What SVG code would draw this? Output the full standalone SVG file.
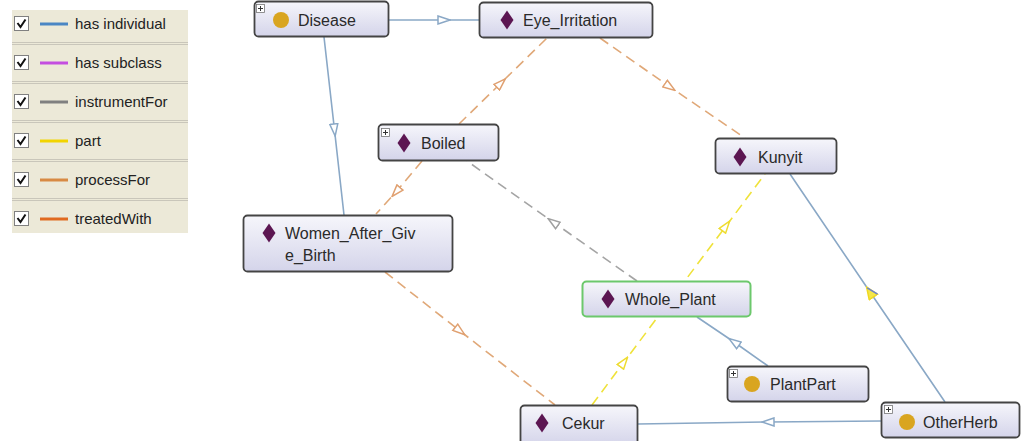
<svg xmlns="http://www.w3.org/2000/svg" width="1024" height="441" viewBox="0 0 1024 441">
<style>
.nt{font-family:"Liberation Sans",Arial,sans-serif;font-size:16px;fill:#2a2a2a}
.lt{font-family:"Liberation Sans",Arial,sans-serif;font-size:15px;fill:#222}
.box{fill:url(#ng);stroke:#444;stroke-width:1.8}
.sel{fill:url(#ng);stroke:#6cc86c;stroke-width:2}
.dia{fill:#5c1652}
.cir{fill:#d9a520}
.plus{fill:#fff;stroke:#777;stroke-width:0.8}
.pl{stroke:#333;stroke-width:1}
.cb{fill:#fff;stroke:#808080;stroke-width:1}
.ck{fill:none;stroke:#111;stroke-width:2}
.sep{stroke:#c9c6ba;stroke-width:1}
.ind{fill:none;stroke:#8aa8c6;stroke-width:1.6}
.proc{fill:none;stroke:#e0a878;stroke-width:1.6;stroke-dasharray:10 6}
.inst{fill:none;stroke:#a4a4a4;stroke-width:1.6;stroke-dasharray:10 6}
.part{fill:none;stroke:#efe23a;stroke-width:1.6;stroke-dasharray:10 6}
</style>
<defs>
<linearGradient id="ng" x1="0" y1="0" x2="0" y2="1">
<stop offset="0" stop-color="#f6f6fb"/>
<stop offset="1" stop-color="#d4d4ea"/>
</linearGradient>
<marker id="aB" viewBox="0 0 14 10" refX="7" refY="5" markerWidth="14" markerHeight="10" markerUnits="userSpaceOnUse" orient="auto">
<path d="M1,1 L13,5 L1,9 Z" fill="#fff" stroke="#8aa8c6" stroke-width="1.5"/>
</marker>
<marker id="aY2" viewBox="0 0 14 12" refX="7" refY="6" markerWidth="14" markerHeight="12" markerUnits="userSpaceOnUse" orient="auto">
<path d="M1,1 L13,6 L1,11 Z" fill="#f3e64a" stroke="#f0d820" stroke-width="1.5"/>
<path d="M12,6 L1,11" fill="none" stroke="#6a80d0" stroke-width="1.5"/>
</marker>
<marker id="aO" viewBox="0 0 14 10" refX="7" refY="5" markerWidth="14" markerHeight="10" markerUnits="userSpaceOnUse" orient="auto">
<path d="M1,1 L13,5 L1,9 Z" fill="#fff" stroke="#e0a070" stroke-width="1.5"/>
</marker>
<marker id="aG" viewBox="0 0 14 10" refX="7" refY="5" markerWidth="14" markerHeight="10" markerUnits="userSpaceOnUse" orient="auto">
<path d="M1,1 L13,5 L1,9 Z" fill="#fff" stroke="#a0a0a0" stroke-width="1.5"/>
</marker>
<marker id="aY" viewBox="0 0 14 10" refX="7" refY="5" markerWidth="14" markerHeight="10" markerUnits="userSpaceOnUse" orient="auto">
<path d="M1,1 L13,5 L1,9 Z" fill="#fff" stroke="#eedc30" stroke-width="1.5"/>
</marker>
</defs>
<rect width="1024" height="441" fill="#fff"/>

<g id="legend">
<rect x="12" y="10" width="176" height="223" fill="#ece9d8"/>
<g class="sep">
<line x1="12" y1="42.5" x2="188" y2="42.5"/><line x1="12" y1="44.5" x2="188" y2="44.5"/>
<line x1="12" y1="81.5" x2="188" y2="81.5"/><line x1="12" y1="83.5" x2="188" y2="83.5"/>
<line x1="12" y1="120.5" x2="188" y2="120.5"/><line x1="12" y1="122.5" x2="188" y2="122.5"/>
<line x1="12" y1="159.5" x2="188" y2="159.5"/><line x1="12" y1="161.5" x2="188" y2="161.5"/>
<line x1="12" y1="198.5" x2="188" y2="198.5"/><line x1="12" y1="200.5" x2="188" y2="200.5"/>
</g>
<g>
<rect class="cb" x="14.5" y="16.5" width="14" height="14"/><path class="ck" d="M17.5,23 L20.5,27 L25.5,19.5"/>
<line x1="40" y1="24" x2="68" y2="24" stroke="#4a86c4" stroke-width="3"/>
<text class="lt" x="75" y="29">has individual</text>
</g>
<g>
<rect class="cb" x="14.5" y="55.5" width="14" height="14"/><path class="ck" d="M17.5,62 L20.5,66 L25.5,58.5"/>
<line x1="40" y1="63" x2="68" y2="63" stroke="#c44ee0" stroke-width="3"/>
<text class="lt" x="75" y="68">has subclass</text>
</g>
<g>
<rect class="cb" x="14.5" y="94.5" width="14" height="14"/><path class="ck" d="M17.5,101 L20.5,105 L25.5,97.5"/>
<line x1="40" y1="102" x2="68" y2="102" stroke="#808080" stroke-width="3"/>
<text class="lt" x="75" y="107">instrumentFor</text>
</g>
<g>
<rect class="cb" x="14.5" y="133.5" width="14" height="14"/><path class="ck" d="M17.5,140 L20.5,144 L25.5,136.5"/>
<line x1="40" y1="141" x2="68" y2="141" stroke="#f2d400" stroke-width="3"/>
<text class="lt" x="75" y="146">part</text>
</g>
<g>
<rect class="cb" x="14.5" y="172.5" width="14" height="14"/><path class="ck" d="M17.5,179 L20.5,183 L25.5,175.5"/>
<line x1="40" y1="180" x2="68" y2="180" stroke="#d88a44" stroke-width="3"/>
<text class="lt" x="75" y="185">processFor</text>
</g>
<g>
<rect class="cb" x="14.5" y="211.5" width="14" height="14"/><path class="ck" d="M17.5,218 L20.5,222 L25.5,214.5"/>
<line x1="40" y1="219" x2="68" y2="219" stroke="#e06a20" stroke-width="3"/>
<text class="lt" x="75" y="224">treatedWith</text>
</g>
</g>

<g id="connectors">
<path class="ind" d="M389,20 L444,20 L479,20" marker-mid="url(#aB)"/>
<path class="ind" d="M324,37 L334.5,130 L344,215" marker-mid="url(#aB)"/>
<path class="proc" d="M459,124 L501,83 L547,38" marker-mid="url(#aO)"/>
<path class="proc" d="M422,161 L396,192 L376,214" marker-mid="url(#aO)"/>
<path class="proc" d="M600,38 L670,87 L745,138" marker-mid="url(#aO)"/>
<path class="proc" d="M385,272 L460,331 L555,405" marker-mid="url(#aO)"/>
<path class="inst" d="M637,281 L553,222 L467,161" marker-mid="url(#aG)"/>
<path class="part" d="M592,405 L624,362 L726,226 L765,174" marker-mid="url(#aY)"/>
<path class="ind" d="M945,402 L870,292 L790,174" marker-mid="url(#aY2)"/>
<path class="ind" d="M768,366 L734,342 L697,317" marker-mid="url(#aB)"/>
<path class="ind" d="M881,421 L768,422 L638,424" marker-mid="url(#aB)"/>
</g>

<g id="node-disease">
<rect class="box" x="254.5" y="1.5" width="134" height="35" rx="4"/>
<rect class="plus" x="256.5" y="4.5" width="8" height="8"/><path class="pl" d="M258,8.5 H263 M260.5,6 V11"/>
<circle class="cir" cx="281" cy="20" r="8"/>
<text class="nt" x="298" y="25.5">Disease</text>
</g>

<g id="node-eye-irritation">
<rect class="box" x="479.5" y="2.5" width="173" height="35" rx="4"/>
<path class="dia" d="M507,10.5 L513.5,20 L507,29.5 L500.5,20 Z"/>
<text class="nt" x="523" y="26">Eye_Irritation</text>
</g>

<g id="node-boiled">
<rect class="box" x="378.5" y="124.5" width="120" height="36" rx="4"/>
<rect class="plus" x="381.5" y="128.5" width="8" height="8"/><path class="pl" d="M383,132.5 H388 M385.5,130 V135"/>
<path class="dia" d="M404,133.5 L410.5,143 L404,152.5 L397.5,143 Z"/>
<text class="nt" x="421" y="149">Boiled</text>
</g>

<g id="node-kunyit">
<rect class="box" x="715.5" y="138.5" width="121" height="35" rx="4"/>
<path class="dia" d="M740,147.5 L746.5,157 L740,166.5 L733.5,157 Z"/>
<text class="nt" x="758" y="162.5">Kunyit</text>
</g>

<g id="node-women">
<rect class="box" x="243.5" y="215.5" width="209" height="56" rx="4"/>
<path class="dia" d="M269,223.5 L275.5,233 L269,242.5 L262.5,233 Z"/>
<text class="nt" x="285" y="239">Women_After_Giv</text>
<text class="nt" x="285" y="261">e_Birth</text>
</g>

<g id="node-whole-plant">
<rect class="sel" x="582.5" y="281.5" width="168" height="35" rx="4"/>
<path class="dia" d="M608,289.5 L614.5,299 L608,308.5 L601.5,299 Z"/>
<text class="nt" x="625" y="304.5">Whole_Plant</text>
</g>

<g id="node-plantpart">
<rect class="box" x="727.5" y="366.5" width="141" height="35" rx="4"/>
<rect class="plus" x="729.5" y="369.5" width="8" height="8"/><path class="pl" d="M731,373.5 H736 M733.5,371 V376"/>
<circle class="cir" cx="752" cy="384" r="8"/>
<text class="nt" x="770" y="389.5">PlantPart</text>
</g>

<g id="node-cekur">
<rect class="box" x="520.5" y="405.5" width="117" height="40" rx="4"/>
<path class="dia" d="M542,413.5 L548.5,423 L542,432.5 L535.5,423 Z"/>
<text class="nt" x="562" y="428.5">Cekur</text>
</g>

<g id="node-otherherb">
<rect class="box" x="881.5" y="402.5" width="138" height="35" rx="4"/>
<rect class="plus" x="884.5" y="405.5" width="8" height="8"/><path class="pl" d="M886,409.5 H891 M888.5,407 V412"/>
<circle class="cir" cx="907" cy="422" r="8"/>
<text class="nt" x="923" y="427.5">OtherHerb</text>
</g>
</svg>
